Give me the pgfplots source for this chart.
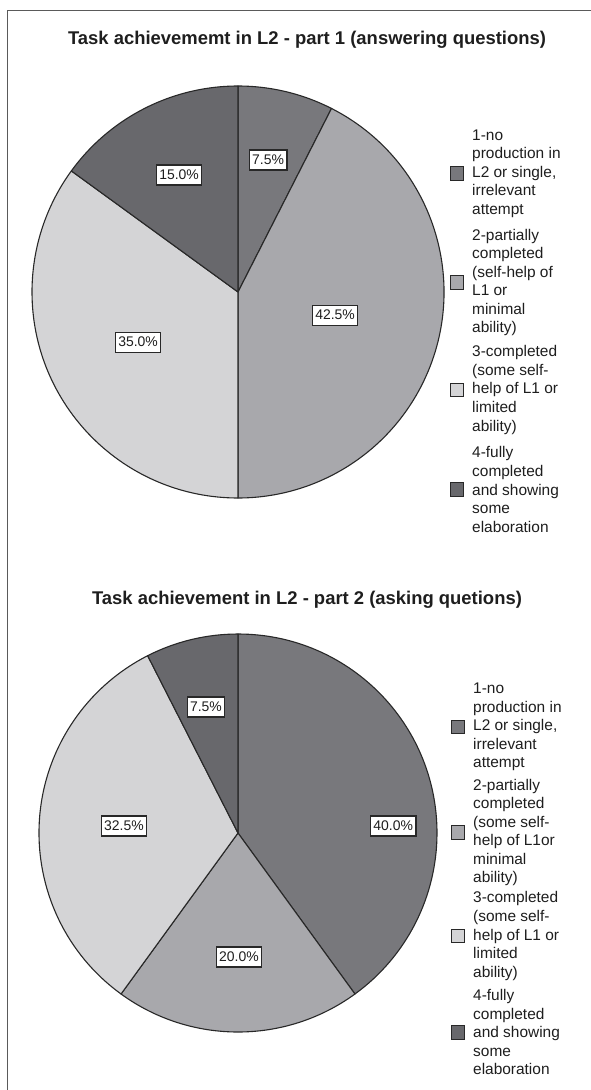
\documentclass[border=0pt]{standalone}
\usepackage{fontspec}
\setmainfont{Liberation Sans}
\usepackage{pgfplots}
\usepackage{pgfplotstable}
\pgfplotsset{compat=1.18}

\definecolor{pie1}{RGB}{120,120,124}
\definecolor{pie2}{RGB}{168,168,172}
\definecolor{pie3}{RGB}{212,212,214}
\definecolor{pie4}{RGB}{104,104,108}
\definecolor{edge}{RGB}{40,40,40}
\definecolor{txt}{RGB}{30,30,30}
\definecolor{frame}{RGB}{90,90,90}

% part 1: category, percent, label position (fraction of radius)
\pgfplotstableread{
cat value lx ly
1 7.5 0.146 0.641
2 42.5 0.471 -0.112
3 35.0 -0.485 -0.243
4 15.0 -0.286 0.568
}\pieA
% part 2
\pgfplotstableread{
cat value lx ly
1 40.0 0.78 0.035
2 20.0 0.005 -0.623
3 32.5 -0.573 0.035
4 7.5 -0.161 0.633
}\pieB

\tikzset{lbl/.style={draw=edge, fill=white, line width=1.1bp, inner xsep=3bp, inner ysep=2bp,
  minimum height=20bp, font=\fontsize{14}{16}\selectfont, text=txt},
  legtxt/.style={anchor=west, align=left, font=\fontsize{15.5}{18.6}\selectfont, text=txt, inner sep=0pt},
  legbox/.style={fill=#1, draw=edge, line width=0.9bp}}

\newcommand\drawpie[2]{%
  \pgfplotstablegetrowsof{#1}%
  \pgfmathtruncatemacro\lastrow{\pgfplotsretval-1}%
  \def\cum{0}%
  \pgfplotsforeachungrouped \rowi in {0,...,\lastrow}{%
    \pgfplotstablegetelem{\rowi}{value}\of{#1}\let\val\pgfplotsretval
    \pgfplotstablegetelem{\rowi}{cat}\of{#1}\let\ccat\pgfplotsretval
    \pgfmathsetmacro\sa{90-3.6*\cum}%
    \pgfmathsetmacro\ea{90-3.6*(\cum+\val)}%
    \pgfmathsetmacro\cum{\cum+\val}%
    \edef\temp{\noexpand\filldraw[fill=pie\ccat, draw=edge, line width=1.1bp, line join=round]
      (axis cs:0,0) -- (axis cs:{cos(\sa)},{sin(\sa)}) arc[start angle=\sa, end angle=\ea, radius=#2bp] -- cycle;}%
    \temp
  }%
  \pgfplotsforeachungrouped \rowi in {0,...,\lastrow}{%
    \pgfplotstablegetelem{\rowi}{value}\of{#1}\let\val\pgfplotsretval
    \pgfplotstablegetelem{\rowi}{lx}\of{#1}\let\lx\pgfplotsretval
    \pgfplotstablegetelem{\rowi}{ly}\of{#1}\let\ly\pgfplotsretval
    \edef\temp{\noexpand\node[lbl] at (axis cs:\lx,\ly) {\val\noexpand\%};}%
    \temp
  }%
}

\begin{document}
\begin{tikzpicture}
\path[use as bounding box] (0,0) rectangle (591bp,-1090bp);
\draw[frame, line width=1bp] (7bp,-1090bp) -- (7bp,-10bp) -- (591bp,-10bp);

\node[font=\bfseries\fontsize{18.5}{22}\selectfont, text=txt] at (307bp,-40bp)
  {Task achievememt in L2 - part 1 (answering questions)};
\begin{axis}[at={(238bp,-292bp)}, anchor=center, width=412bp, height=412bp,
  scale only axis, xmin=-1, xmax=1, ymin=-1, ymax=1, hide axis, clip=false]
\drawpie{\pieA}{206}
\end{axis}

\fill[legbox=pie1] (450bp,-180bp) rectangle (463.5bp,-166.5bp);
\node[legtxt] at (472bp,-173.5bp) {1-no\\production in\\L2 or single,\\irrelevant\\attempt};
\fill[legbox=pie2] (450bp,-289bp) rectangle (463.5bp,-275.5bp);
\node[legtxt] at (472bp,-282.5bp) {2-partially\\completed\\(self-help of\\L1 or\\minimal\\ability)};
\fill[legbox=pie3] (450bp,-396.5bp) rectangle (463.5bp,-383bp);
\node[legtxt] at (472bp,-390bp) {3-completed\\(some self-\\help of L1 or\\limited\\ability)};
\fill[legbox=pie4] (450bp,-496bp) rectangle (463.5bp,-482.5bp);
\node[legtxt] at (472bp,-489.5bp) {4-fully\\completed\\and showing\\some\\elaboration};

\node[font=\bfseries\fontsize{18.5}{22}\selectfont, text=txt] at (307bp,-600bp)
  {Task achievement in L2 - part 2 (asking quetions)};
\begin{axis}[at={(238bp,-833bp)}, anchor=center, width=398bp, height=398bp,
  scale only axis, xmin=-1, xmax=1, ymin=-1, ymax=1, hide axis, clip=false]
\drawpie{\pieB}{199}
\end{axis}

\fill[legbox=pie1] (451bp,-733.5bp) rectangle (464.5bp,-720bp);
\node[legtxt] at (473bp,-727bp) {1-no\\production in\\L2 or single,\\irrelevant\\attempt};
\fill[legbox=pie2] (451bp,-839bp) rectangle (464.5bp,-825.5bp);
\node[legtxt] at (473bp,-832.5bp) {2-partially\\completed\\(some self-\\help of L1or\\minimal\\ability)};
\fill[legbox=pie3] (451bp,-942.5bp) rectangle (464.5bp,-929bp);
\node[legtxt] at (473bp,-936bp) {3-completed\\(some self-\\help of L1 or\\limited\\ability)};
\fill[legbox=pie4] (451bp,-1039bp) rectangle (464.5bp,-1025.5bp);
\node[legtxt] at (473bp,-1032bp) {4-fully\\completed\\and showing\\some\\elaboration};
\end{tikzpicture}
\end{document}
